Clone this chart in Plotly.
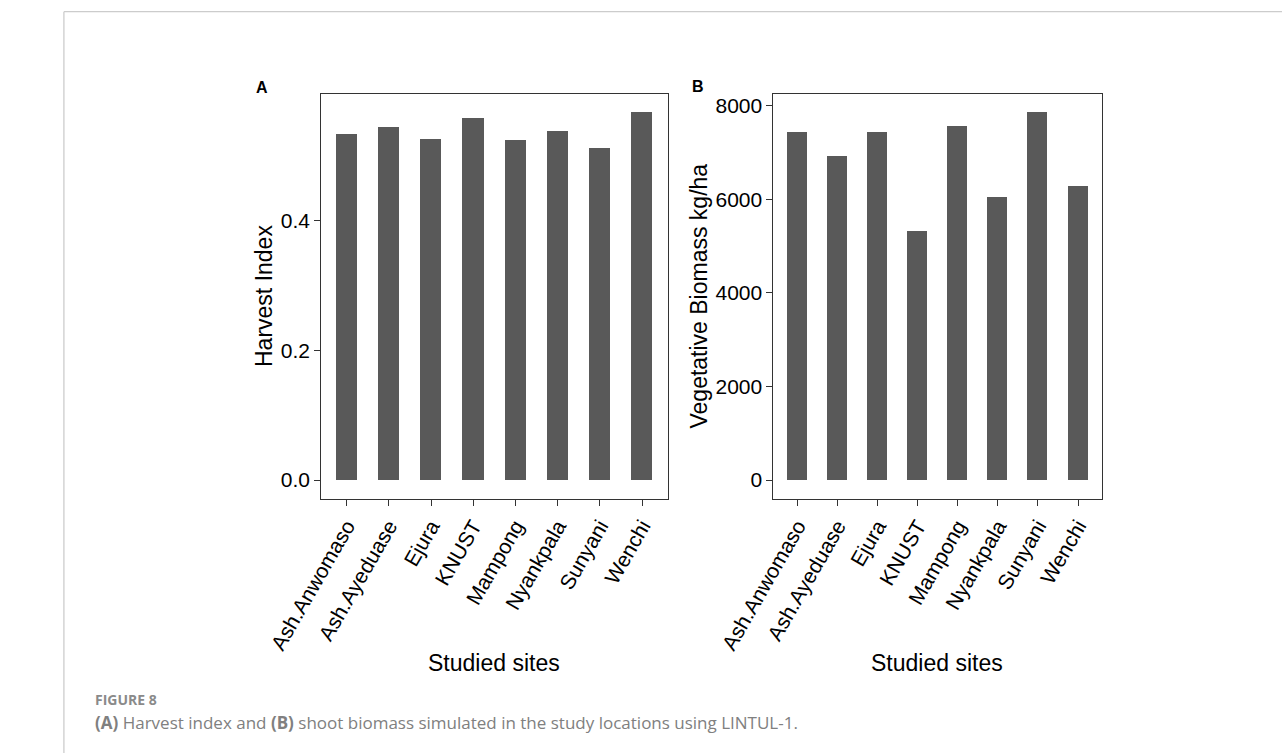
import plotly.graph_objects as go

# Study sites and simulated outputs (LINTUL-1)
sites = ["Ash.Anwomaso", "Ash.Ayeduase", "Ejura", "KNUST",
         "Mampong", "Nyankpala", "Sunyani", "Wenchi"]
harvest_index = [0.532, 0.544, 0.525, 0.558, 0.523, 0.537, 0.511, 0.566]
veg_biomass = [7425, 6915, 7440, 5310, 7550, 6045, 7850, 6275]

W, H = 1282, 753
BAR = "#595959"
AX = "#333333"
FONT = "Liberation Sans, Arial, Helvetica, sans-serif"
CAP_FONT = "Open Sans, Noto Sans, sans-serif"


def px(x):
    return x / W


def py(y):
    return 1 - y / H


def expand(vals):
    m = max(vals)
    return [-0.05 * m, 1.05 * m]


fig = go.Figure()
fig.add_trace(go.Bar(x=sites, y=harvest_index, width=0.5, marker_color=BAR,
                     marker_line_width=0, xaxis="x", yaxis="y", showlegend=False))
fig.add_trace(go.Bar(x=sites, y=veg_biomass, width=0.5, marker_color=BAR,
                     marker_line_width=0, xaxis="x2", yaxis="y2", showlegend=False))

ydom = [py(498.5), py(94.3)]
common_x = dict(type="category", range=[-0.6, 7.6], showline=True, mirror=True,
                linecolor=AX, linewidth=1.2, ticks="outside", ticklen=6,
                tickcolor=AX, tickwidth=1.2, tickangle=-60, showgrid=False,
                zeroline=False, tickfont=dict(family=FONT, size=21, color="#000"))
common_y = dict(showline=True, mirror=True, linecolor=AX, linewidth=1.2,
                ticks="outside", ticklen=6, tickcolor=AX, tickwidth=1.2,
                showgrid=False, zeroline=False, domain=ydom,
                tickfont=dict(family=FONT, size=21, color="#000"))

fig.update_layout(
    width=W, height=H, margin=dict(l=0, r=0, t=0, b=0),
    paper_bgcolor="white", plot_bgcolor="white",
    xaxis=dict(common_x, domain=[px(278.3), px(640)], anchor="y"),
    yaxis=dict(common_y, anchor="x", range=expand(harvest_index),
               tick0=0, dtick=0.2, tickformat=".1f"),
    xaxis2=dict(common_x, domain=[px(750.7), px(1094)], anchor="y2"),
    yaxis2=dict(common_y, anchor="x2", range=expand(veg_biomass),
                tick0=0, dtick=2000, tickformat="d"),
    bargap=0,
)

annots = [
    dict(text="Harvest Index", x=px(219), y=py(296.4), textangle=-90,
         font=dict(family=FONT, size=23, color="#000")),
    dict(text="Vegetative Biomass kg/ha", x=px(673), y=py(296.4), textangle=-90,
         font=dict(family=FONT, size=23, color="#000")),
    dict(text="Studied sites", x=px(459), y=py(663),
         font=dict(family=FONT, size=23, color="#000")),
    dict(text="Studied sites", x=px(922), y=py(663),
         font=dict(family=FONT, size=23, color="#000")),
    dict(text="<b>A</b>", x=px(216.7), y=py(87.3),
         font=dict(family=FONT, size=16, color="#000")),
    dict(text="<b>B</b>", x=px(671.7), y=py(86.7),
         font=dict(family=FONT, size=16, color="#000")),
    dict(text="<b>FIGURE 8</b>", x=px(40), y=py(699), xanchor="left",
         font=dict(family=CAP_FONT, size=14, color="#8a8a8a")),
    dict(text="<b>(A)</b> Harvest index and <b>(B)</b> shoot biomass simulated "
              "in the study locations using LINTUL-1.",
         x=px(40), y=py(722), xanchor="left",
         font=dict(family=CAP_FONT, size=17, color="#808080")),
]
for a in annots:
    a.setdefault("xanchor", "center")
    fig.add_annotation(xref="paper", yref="paper", showarrow=False,
                       yanchor="middle", **a)

# page frame lines
fig.add_shape(type="line", xref="paper", yref="paper", x0=px(9.3), x1=1,
              y0=py(11.7), y1=py(11.7), line=dict(color="#cccccc", width=1.3))
fig.add_shape(type="line", xref="paper", yref="paper", x0=px(9.3), x1=px(9.3),
              y0=py(11.7), y1=0, line=dict(color="#cccccc", width=1.3))

fig.write_html("out.html")
